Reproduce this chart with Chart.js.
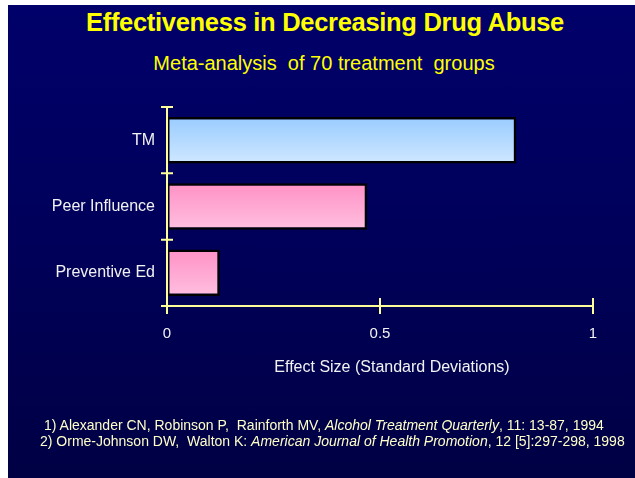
<!DOCTYPE html>
<html>
<head>
<meta charset="utf-8">
<script src="https://cdn.jsdelivr.net/npm/chart.js@4/dist/chart.umd.min.js"></script>
<style>
  html, body { margin: 0; padding: 0; background: #ffffff; }
  body { width: 635px; height: 478px; position: relative; overflow: hidden; font-family: "Liberation Sans", Arial, sans-serif; }
  #slide { position: absolute; left: 8px; top: 5px; width: 627px; height: 473px;
           background: linear-gradient(to bottom, #00006a 0%, #00005a 50%, #000044 100%); }
  #wrap { position: absolute; left: 0; top: 0; width: 635px; height: 478px; }
  .t { position: absolute; white-space: pre; }
  #title { left: 0; width: 650px; text-align: center; top: 8px; font-size: 25.5px; font-weight: bold; color: #ffff00; letter-spacing: -0.3px; }
  #sub { left: 0; width: 648px; text-align: center; top: 52px; font-size: 20px; color: #ffff00; letter-spacing: 0px; }
  #xtitle { left: 242px; width: 300px; text-align: center; top: 358px; font-size: 16px; color: #f2f2f2; }
  .fn { font-size: 14px; color: #ffffc8; letter-spacing: 0px; }
  #fn1 { left: 44px; top: 417px; }
  #fn2 { left: 40px; top: 433px; }
</style>
</head>
<body>
<div id="slide"></div>
<div class="t" id="title">Effectiveness in Decreasing Drug Abuse</div>
<div class="t" id="sub">Meta-analysis  of 70 treatment  groups</div>
<div id="wrap"><canvas id="c" width="635" height="478"></canvas></div>
<div class="t" id="xtitle"></div>
<div class="t fn" id="fn1">1) Alexander CN, Robinson P,  Rainforth MV, <i>Alcohol Treatment Quarterly</i>, 11: 13-87, 1994</div>
<div class="t fn" id="fn2">2) Orme-Johnson DW,  Walton K: <i>American Journal of Health Promotion</i>, 12 [5]:297-298, 1998</div>
<script>
const categories = ["TM", "Peer Influence", "Preventive Ed"];
const effectSizes = [0.82, 0.47, 0.124];
const xTickValues = [0, 0.5, 1];
const xTickLabels = ["0", "0.5", "1"];
const xAxisTitle = "Effect Size (Standard Deviations)";

document.getElementById("xtitle").textContent = xAxisTitle;

const gradTop = ["#99ccff", "#ff91c6", "#ff91c6"];
const gradBottom = ["#cfe7ff", "#ffbfdf", "#ffbfdf"];
const axisColor = "#ffff99";

const gradientPlugin = {
  id: "barGradient",
  beforeDatasetsDraw(chart) {
    const ctx = chart.ctx;
    const meta = chart.getDatasetMeta(0);
    meta.data.forEach((el, i) => {
      const h = el.height;
      const g = ctx.createLinearGradient(0, el.y - h / 2, 0, el.y + h / 2);
      g.addColorStop(0, gradTop[i]);
      g.addColorStop(1, gradBottom[i]);
      el.options.backgroundColor = g;
    });
  }
};

const axesPlugin = {
  id: "crossAxes",
  afterDraw(chart) {
    const ctx = chart.ctx;
    const xs = chart.scales.x, ys = chart.scales.y;
    const left = xs.getPixelForValue(0);
    const right = xs.getPixelForValue(1);
    const n = categories.length;
    const c0 = ys.getPixelForValue(0), c1 = ys.getPixelForValue(1);
    const step = c1 - c0;
    const top = c0 - step / 2;
    const bottom = ys.getPixelForValue(n - 1) + step / 2;
    ctx.save();
    ctx.strokeStyle = axisColor;
    ctx.lineWidth = 2;
    ctx.beginPath();
    ctx.moveTo(left, top);
    ctx.lineTo(left, bottom + 8);
    for (let i = 0; i <= n; i++) {
      const y = top + i * step;
      ctx.moveTo(left - 6, y);
      ctx.lineTo(left + 6, y);
    }
    ctx.moveTo(left, bottom);
    ctx.lineTo(right, bottom);
    xTickValues.forEach(v => {
      if (v === 0) return;
      const x = xs.getPixelForValue(v);
      ctx.moveTo(x, bottom - 8);
      ctx.lineTo(x, bottom + 8);
    });
    ctx.stroke();
    ctx.restore();
  }
};

new Chart(document.getElementById("c"), {
  type: "bar",
  data: {
    labels: categories,
    datasets: [{
      data: effectSizes,
      backgroundColor: gradTop,
      borderColor: "#000000",
      borderWidth: 2.5,
      borderSkipped: false,
      categoryPercentage: 1,
      barPercentage: 0.7
    }]
  },
  options: {
    indexAxis: "y",
    responsive: false,
    animation: false,
    devicePixelRatio: 1,
    layout: { padding: { left: 0, top: 107, right: 42, bottom: 102 } },
    plugins: { legend: { display: false }, tooltip: { enabled: false } },
    scales: {
      x: {
        min: 0, max: 1,
        afterBuildTicks: s => { s.ticks = xTickValues.map(v => ({ value: v })); },
        grid: { display: false },
        border: { display: false },
        ticks: {
          color: "#f2f2f2", font: { family: "Liberation Sans", size: 15 }, padding: 11, maxRotation: 0,
          callback: (v) => xTickLabels[xTickValues.indexOf(v)]
        },
        afterFit: s => { s.height = 70; }
      },
      y: {
        grid: { display: false },
        border: { display: false },
        ticks: { color: "#f2f2f2", font: { family: "Liberation Sans", size: 16 }, padding: 4 },
        afterFit: s => { s.width = 167; }
      }
    }
  },
  plugins: [gradientPlugin, axesPlugin]
});
</script>
</body>
</html>
